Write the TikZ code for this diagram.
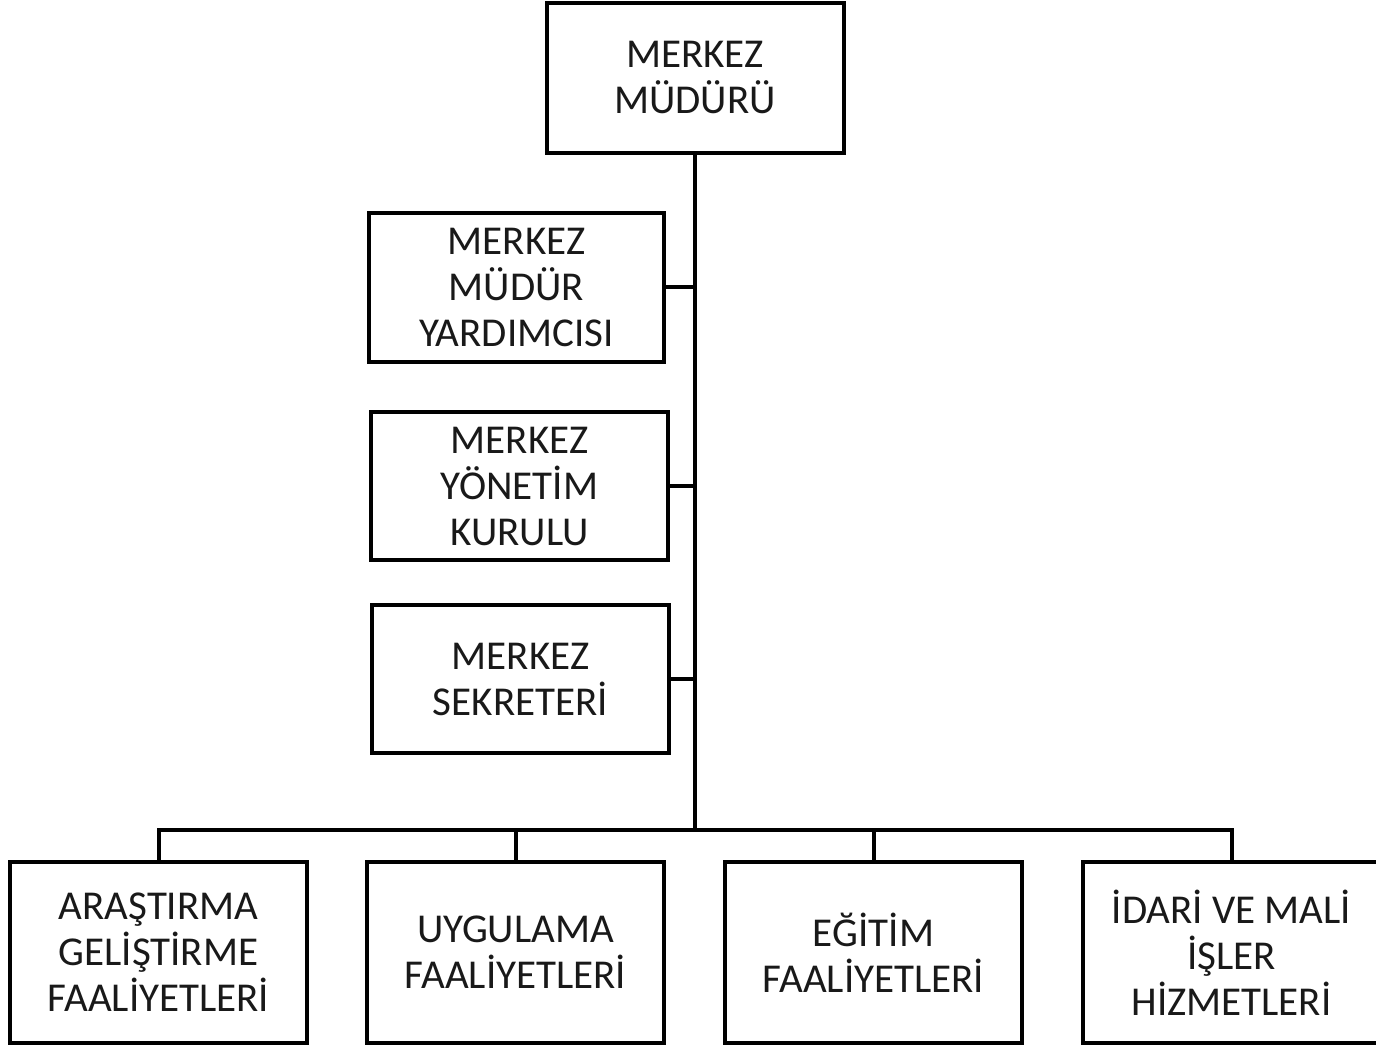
\documentclass[tikz,border=0pt]{standalone}
\usepackage{fontspec}
\setmainfont{Carlito}
\begin{document}
\begin{tikzpicture}[x=1pt,y=-1pt,
  box/.style={draw=black, line width=4pt, fill=white, align=center, inner sep=0pt,
    font=\fontsize{41pt}{46pt}\selectfont, text=black!90},
  wire/.style={draw=black, line width=4pt, line cap=rect}]
\useasboundingbox (0,0) rectangle (1376,1048);
\node[box, minimum width=297pt, minimum height=150pt] (top) at (695,78) {MERKEZ\\MÜDÜRÜ};
\node[box, minimum width=295pt, minimum height=149pt] (vice) at (516.5,287.5) {MERKEZ\\MÜDÜR\\YARDIMCISI};
\node[box, minimum width=297pt, minimum height=148pt] (board) at (519.5,486) {MERKEZ\\YÖNETİM\\KURULU};
\node[box, minimum width=297pt, minimum height=148pt] (sec) at (520.5,679) {MERKEZ\\SEKRETERİ};
\node[box, minimum width=297pt, minimum height=181pt] (b1) at (158.5,952.5) {ARAŞTIRMA\\GELİŞTİRME\\FAALİYETLERİ};
\node[box, minimum width=297pt, minimum height=181pt] (b2) at (515.5,952.5) {UYGULAMA\\FAALİYETLERİ};
\node[box, minimum width=297pt, minimum height=181pt] (b3) at (873.5,952.5) {EĞİTİM\\FAALİYETLERİ};
\node[box, minimum width=297pt, minimum height=181pt] (b4) at (1231.5,952.5) {İDARİ VE MALİ\\İŞLER\\HİZMETLERİ};
\coordinate (bus) at (695,830);
\draw[wire] (top.south) -- (bus);
\draw[wire] (vice.east) -- (vice.east -| top.south);
\draw[wire] (board.east) -- (board.east -| top.south);
\draw[wire] (sec.east) -- (sec.east -| top.south);
\draw[wire] (b1.north) -- (b1.north |- bus) -- (b4.north |- bus) -- (b4.north);
\draw[wire] (b2.north) -- (b2.north |- bus);
\draw[wire] (b3.north) -- (b3.north |- bus);
\end{tikzpicture}
\end{document}
